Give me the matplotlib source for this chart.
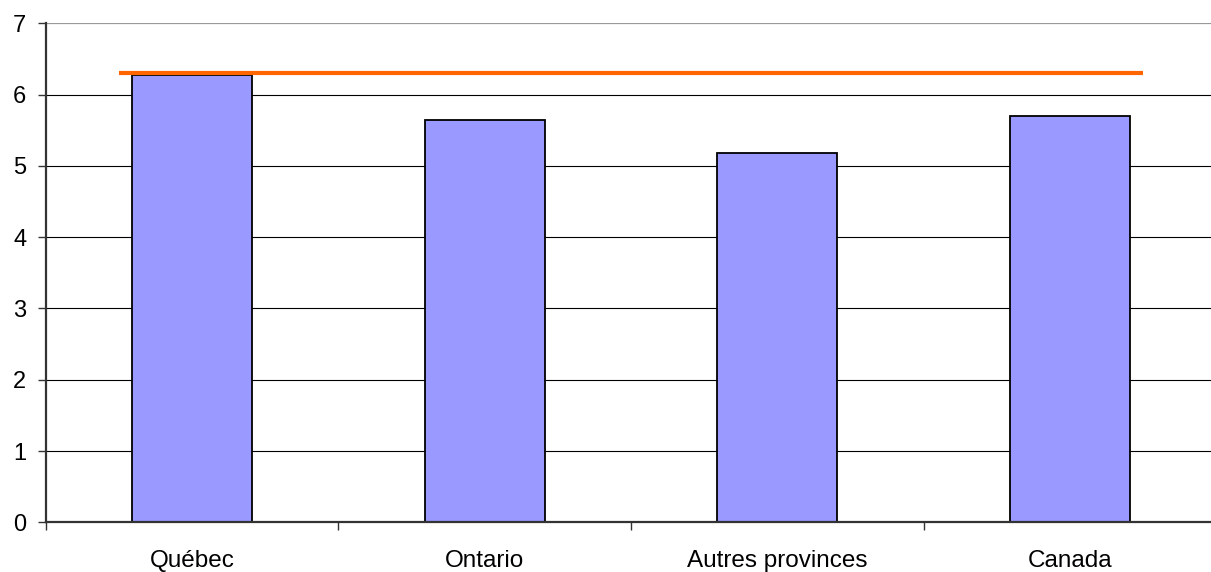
import matplotlib.pyplot as plt
import numpy as np

plt.rcParams.update({
    "font.family": ["Liberation Sans", "DejaVu Sans"],
    "figure.facecolor": "white",
    "axes.facecolor": "white",
})

# values per region, with the Québec reference level drawn as a line
regions = ["Québec", "Ontario", "Autres provinces", "Canada"]
values = [6.27, 5.64, 5.18, 5.70]
reference = 6.3
y_ticks = [0, 1, 2, 3, 4, 5, 6, 7]

fig = plt.figure(figsize=(12.11, 5.72), dpi=100)
ax = fig.add_axes([0.0377, 0.0869, 0.9668, 0.8723])

x = np.arange(len(regions))
ax.set_xlim(-0.5, len(regions) - 0.5)
ax.set_ylim(0, 7)

for yv in y_ticks[1:-1]:
    ax.axhline(yv, color="black", linewidth=0.8, zorder=1)
ax.axhline(7, color="#999999", linewidth=1.6, zorder=1)

ax.bar(x, values, width=0.41, color="#9999FF", edgecolor="black",
       linewidth=1.3, zorder=2)
ax.hlines(reference, x[0] - 0.25, x[-1] + 0.25, color="#FF6600",
          linewidth=3.0, zorder=3)

ax.set_yticks(y_ticks)
ax.set_yticklabels([str(v) for v in y_ticks], fontsize=17)
ax.set_xticks(x)
ax.set_xticklabels(regions, fontsize=17.5)

# category separators on the x axis
ax.set_xticks(np.arange(-0.5, len(regions)), minor=True)
ax.tick_params(axis="x", which="major", length=0, pad=20)
ax.tick_params(axis="x", which="minor", length=6, width=1, color="#333333",
               direction="out")
ax.tick_params(axis="y", length=6, width=1, color="#333333", pad=8)

for side in ["top", "right"]:
    ax.spines[side].set_visible(False)
ax.spines["left"].set_color("#333333")
ax.spines["left"].set_linewidth(1.6)
ax.spines["bottom"].set_color("#333333")
ax.spines["bottom"].set_linewidth(1.6)

fig.savefig("out.png", dpi=100)
